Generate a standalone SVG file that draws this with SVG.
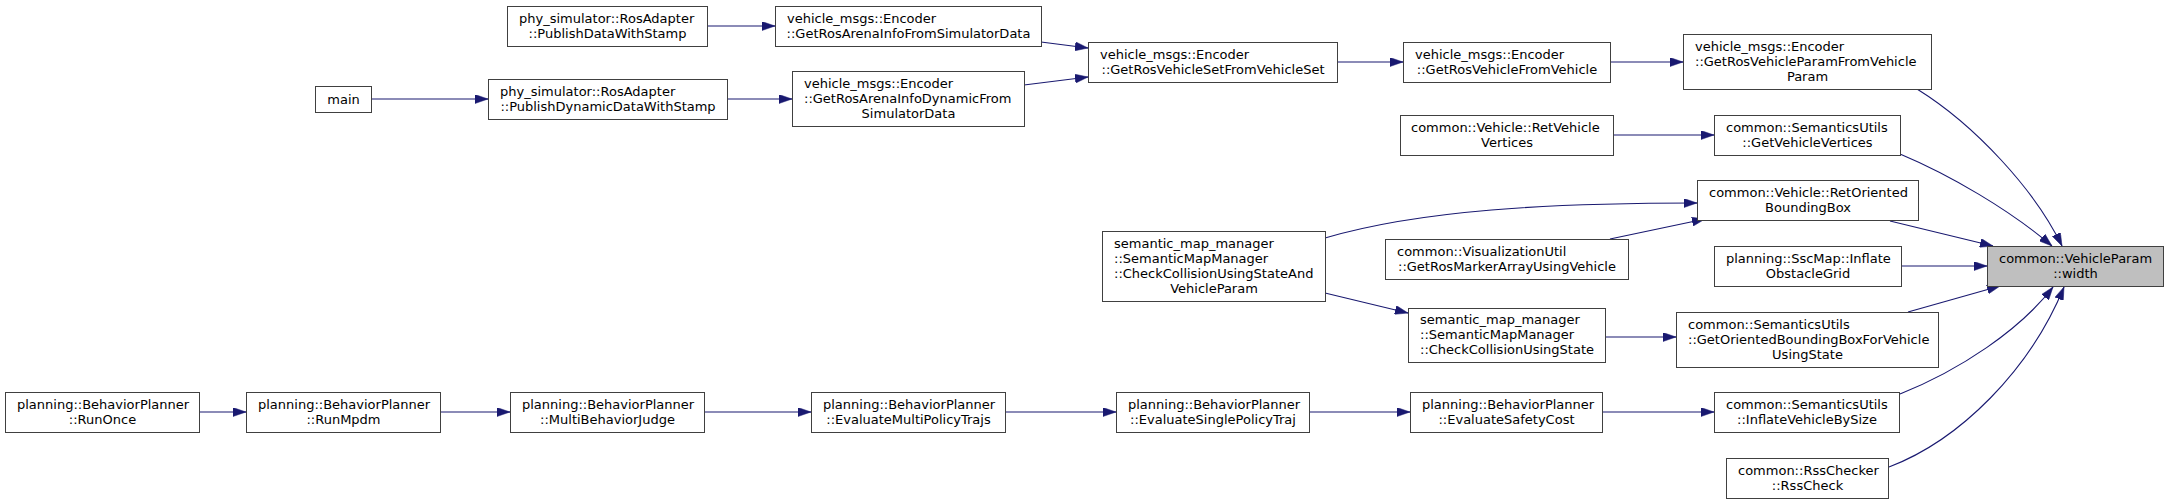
<svg xmlns="http://www.w3.org/2000/svg" width="2169" height="504" viewBox="0 0 2169 504">
<style>
.n rect{fill:#ffffff;stroke:#404040;stroke-width:1}
.root rect{fill:#bfbfbf;stroke:#404040;stroke-width:1}
text{font-family:"DejaVu Sans","Liberation Sans",sans-serif;font-size:13px;fill:#000}
.c{text-anchor:middle}
.l{text-anchor:start}
.e path{fill:none;stroke:#191970;stroke-width:1.1}
</style>
<defs>
<marker id="ah" viewBox="0 0 13 9" refX="13" refY="4.5" markerWidth="13" markerHeight="9" markerUnits="userSpaceOnUse" orient="auto">
<path d="M0,0 L13,4.5 L0,9 z" fill="#191970" stroke="#191970" stroke-width="0.5"/>
</marker>
</defs>
<rect width="2169" height="504" fill="#ffffff"/>
<g id="connectors" class="e">
<path d="M707,26 L775,26" marker-end="url(#ah)"/>
<path d="M371,99 L488,99" marker-end="url(#ah)"/>
<path d="M727,99 L792,99" marker-end="url(#ah)"/>
<path d="M1041,42 L1088,48" marker-end="url(#ah)"/>
<path d="M1024,85 L1088,77" marker-end="url(#ah)"/>
<path d="M1337,62 L1403,62" marker-end="url(#ah)"/>
<path d="M1610,62 L1683,62" marker-end="url(#ah)"/>
<path d="M1613,135 L1714,135" marker-end="url(#ah)"/>
<path d="M1917,89 C1975,125 2035,190 2062,246" marker-end="url(#ah)"/>
<path d="M1900,154 C1950,175 2010,210 2052,246" marker-end="url(#ah)"/>
<path d="M1890,221 L1993,246" marker-end="url(#ah)"/>
<path d="M1901,266 L1987,266" marker-end="url(#ah)"/>
<path d="M1908,312 L2000,286" marker-end="url(#ah)"/>
<path d="M1900,394 C1960,370 2020,330 2053,287" marker-end="url(#ah)"/>
<path d="M1889,467 C1960,440 2030,370 2064,287" marker-end="url(#ah)"/>
<path d="M1325,238 C1420,210 1550,203 1697,203" marker-end="url(#ah)"/>
<path d="M1610,239 L1705,219" marker-end="url(#ah)"/>
<path d="M1325,293 L1408,313" marker-end="url(#ah)"/>
<path d="M1605,337 L1676,337" marker-end="url(#ah)"/>
<path d="M199,412 L246,412" marker-end="url(#ah)"/>
<path d="M440,412 L510,412" marker-end="url(#ah)"/>
<path d="M704,412 L811,412" marker-end="url(#ah)"/>
<path d="M1005,412 L1116,412" marker-end="url(#ah)"/>
<path d="M1309,412 L1410,412" marker-end="url(#ah)"/>
<path d="M1602,412 L1714,412" marker-end="url(#ah)"/>
</g>
<g id="n_pdws" class="n"><rect x="507.5" y="6.5" width="200" height="40"/><text class="l" x="519" y="22.5">phy_simulator::RosAdapter</text><text class="c" x="607.5" y="37.5">::PublishDataWithStamp</text></g>
<g id="n_main" class="n"><rect x="315.5" y="86.5" width="56" height="26"/><text class="c" x="343.5" y="104">main</text></g>
<g id="n_pddws" class="n"><rect x="488.5" y="79.5" width="239" height="40"/><text class="l" x="500" y="95.5">phy_simulator::RosAdapter</text><text class="c" x="608" y="110.5">::PublishDynamicDataWithStamp</text></g>
<g id="n_arena" class="n"><rect x="775.5" y="6.5" width="266" height="40"/><text class="l" x="787" y="22.5">vehicle_msgs::Encoder</text><text class="c" x="908.5" y="37.5">::GetRosArenaInfoFromSimulatorData</text></g>
<g id="n_arenadyn" class="n"><rect x="792.5" y="71.5" width="232" height="55"/><text class="l" x="804" y="87.5">vehicle_msgs::Encoder</text><text class="l" x="804" y="102.5">::GetRosArenaInfoDynamicFrom</text><text class="c" x="908.5" y="117.5">SimulatorData</text></g>
<g id="n_vset" class="n"><rect x="1088.5" y="42.5" width="249" height="40"/><text class="l" x="1100" y="58.5">vehicle_msgs::Encoder</text><text class="c" x="1213" y="73.5">::GetRosVehicleSetFromVehicleSet</text></g>
<g id="n_vfromv" class="n"><rect x="1403.5" y="42.5" width="207" height="40"/><text class="l" x="1415" y="58.5">vehicle_msgs::Encoder</text><text class="c" x="1507" y="73.5">::GetRosVehicleFromVehicle</text></g>
<g id="n_vparam" class="n"><rect x="1683.5" y="34.5" width="248" height="55"/><text class="l" x="1695" y="50.5">vehicle_msgs::Encoder</text><text class="l" x="1695" y="65.5">::GetRosVehicleParamFromVehicle</text><text class="c" x="1807.5" y="80.5">Param</text></g>
<g id="n_retvv" class="n"><rect x="1400.5" y="115.5" width="213" height="40"/><text class="l" x="1411" y="131.5">common::Vehicle::RetVehicle</text><text class="c" x="1507" y="146.5">Vertices</text></g>
<g id="n_getvv" class="n"><rect x="1714.5" y="115.5" width="186" height="40"/><text class="l" x="1726" y="131.5">common::SemanticsUtils</text><text class="c" x="1807.5" y="146.5">::GetVehicleVertices</text></g>
<g id="n_retobb" class="n"><rect x="1697.5" y="180.5" width="221" height="40"/><text class="l" x="1709" y="196.5">common::Vehicle::RetOriented</text><text class="c" x="1808" y="211.5">BoundingBox</text></g>
<g id="n_ccsvp" class="n"><rect x="1102.5" y="231.5" width="223" height="70"/><text class="l" x="1114" y="247.5">semantic_map_manager</text><text class="l" x="1114" y="262.5">::SemanticMapManager</text><text class="l" x="1114" y="277.5">::CheckCollisionUsingStateAnd</text><text class="c" x="1214" y="292.5">VehicleParam</text></g>
<g id="n_marker" class="n"><rect x="1385.5" y="239.5" width="243" height="40"/><text class="l" x="1397" y="255.5">common::VisualizationUtil</text><text class="c" x="1507" y="270.5">::GetRosMarkerArrayUsingVehicle</text></g>
<g id="n_infobs" class="n"><rect x="1714.5" y="246.5" width="187" height="40"/><text class="l" x="1726" y="262.5">planning::SscMap::Inflate</text><text class="c" x="1808" y="277.5">ObstacleGrid</text></g>
<g id="n_width" class="root"><rect x="1987.5" y="246.5" width="176" height="40"/><text class="l" x="1999" y="262.5">common::VehicleParam</text><text class="c" x="2075.5" y="277.5">::width</text></g>
<g id="n_ccs" class="n"><rect x="1408.5" y="308.5" width="197" height="54"/><text class="l" x="1420" y="324">semantic_map_manager</text><text class="l" x="1420" y="339">::SemanticMapManager</text><text class="c" x="1507" y="354">::CheckCollisionUsingState</text></g>
<g id="n_getobb" class="n"><rect x="1676.5" y="312.5" width="262" height="55"/><text class="l" x="1688" y="328.5">common::SemanticsUtils</text><text class="l" x="1688" y="343.5">::GetOrientedBoundingBoxForVehicle</text><text class="c" x="1807.5" y="358.5">UsingState</text></g>
<g id="n_runonce" class="n"><rect x="5.5" y="392.5" width="194" height="40"/><text class="l" x="17" y="408.5">planning::BehaviorPlanner</text><text class="c" x="102.5" y="423.5">::RunOnce</text></g>
<g id="n_runmpdm" class="n"><rect x="246.5" y="392.5" width="194" height="40"/><text class="l" x="258" y="408.5">planning::BehaviorPlanner</text><text class="c" x="343.5" y="423.5">::RunMpdm</text></g>
<g id="n_mbj" class="n"><rect x="510.5" y="392.5" width="194" height="40"/><text class="l" x="522" y="408.5">planning::BehaviorPlanner</text><text class="c" x="607.5" y="423.5">::MultiBehaviorJudge</text></g>
<g id="n_empt" class="n"><rect x="811.5" y="392.5" width="194" height="40"/><text class="l" x="823" y="408.5">planning::BehaviorPlanner</text><text class="c" x="908.5" y="423.5">::EvaluateMultiPolicyTrajs</text></g>
<g id="n_espt" class="n"><rect x="1116.5" y="392.5" width="193" height="40"/><text class="l" x="1128" y="408.5">planning::BehaviorPlanner</text><text class="c" x="1213" y="423.5">::EvaluateSinglePolicyTraj</text></g>
<g id="n_esc" class="n"><rect x="1410.5" y="392.5" width="192" height="40"/><text class="l" x="1422" y="408.5">planning::BehaviorPlanner</text><text class="c" x="1506.5" y="423.5">::EvaluateSafetyCost</text></g>
<g id="n_ivbs" class="n"><rect x="1714.5" y="392.5" width="185" height="40"/><text class="l" x="1726" y="408.5">common::SemanticsUtils</text><text class="c" x="1807" y="423.5">::InflateVehicleBySize</text></g>
<g id="n_rss" class="n"><rect x="1726.5" y="458.5" width="162" height="40"/><text class="l" x="1738" y="474.5">common::RssChecker</text><text class="c" x="1807.5" y="489.5">::RssCheck</text></g>
</svg>
